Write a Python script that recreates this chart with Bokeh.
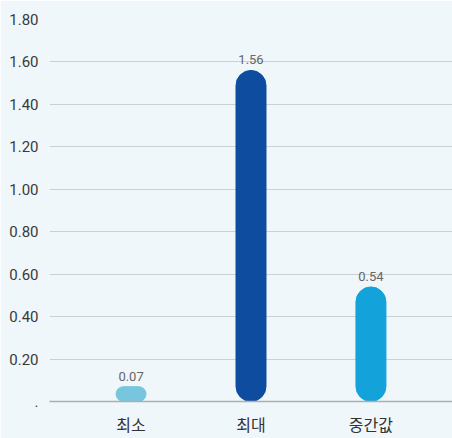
from bokeh.plotting import figure
from bokeh.models import ColumnDataSource, Range1d, FactorRange, FixedTicker
from bokeh.core.properties import value
from bokeh.embed import file_html
from bokeh.resources import INLINE

categories = ["최소", "최대", "중간값"]
values = [0.07, 1.56, 0.54]
labels = ["0.07", "1.56", "0.54"]
colors = ["#78c6de", "#0e4c9f", "#14a2db"]
y_ticks = [0, 0.2, 0.4, 0.6, 0.8, 1.0, 1.2, 1.4, 1.6, 1.8]
y_tick_labels = [".", "0.20", "0.40", "0.60", "0.80", "1.00", "1.20", "1.40", "1.60", "1.80"]

num_font = "Roboto"
bg = "#eff7fa"

src = ColumnDataSource(dict(cat=categories, val=values, lab=labels, col=colors))

p = figure(width=452, height=438, output_backend="svg", toolbar_location=None,
           x_range=FactorRange(*categories, range_padding=0.18, range_padding_units="absolute"),
           y_range=Range1d(0, 1.8),
           min_border_left=49, min_border_right=0, min_border_top=19, min_border_bottom=37)
p.background_fill_color = bg
p.border_fill_color = bg
p.outline_line_color = None

p.vbar(x="cat", top="val", bottom=0, width=0.25, color="col", source=src,
       border_radius=15)
p.text(x="cat", y="val", text="lab", source=src, y_offset=-6,
       text_align="center", text_baseline="bottom",
       text_font=value(num_font), text_font_size="13px", text_color="#666666")

p.yaxis.ticker = FixedTicker(ticks=y_ticks)
p.yaxis.major_label_overrides = {t: l for t, l in zip(y_ticks, y_tick_labels)}
p.yaxis.axis_line_color = None
p.yaxis.major_tick_line_color = None
p.yaxis.minor_tick_line_color = None
p.yaxis.major_tick_out = 0
p.yaxis.major_label_standoff = 11
p.yaxis.major_label_text_font = num_font
p.yaxis.major_label_text_font_size = "15px"
p.yaxis.major_label_text_color = "#3a3a3a"

p.xaxis.axis_line_color = "#a8b0b4"
p.xaxis.axis_line_width = 1.5
p.xaxis.major_tick_line_color = None
p.xaxis.minor_tick_line_color = None
p.xaxis.major_tick_out = 0
p.xaxis.major_label_standoff = 10
p.xaxis.major_label_text_font = "Noto Sans CJK KR"
p.xaxis.major_label_text_font_size = "16px"
p.xaxis.major_label_text_color = "#333333"

p.xgrid.grid_line_color = None
p.ygrid.grid_line_color = "#c9d1d5"
p.ygrid.grid_line_width = 1

open("out.html", "w").write(file_html(p, INLINE))
